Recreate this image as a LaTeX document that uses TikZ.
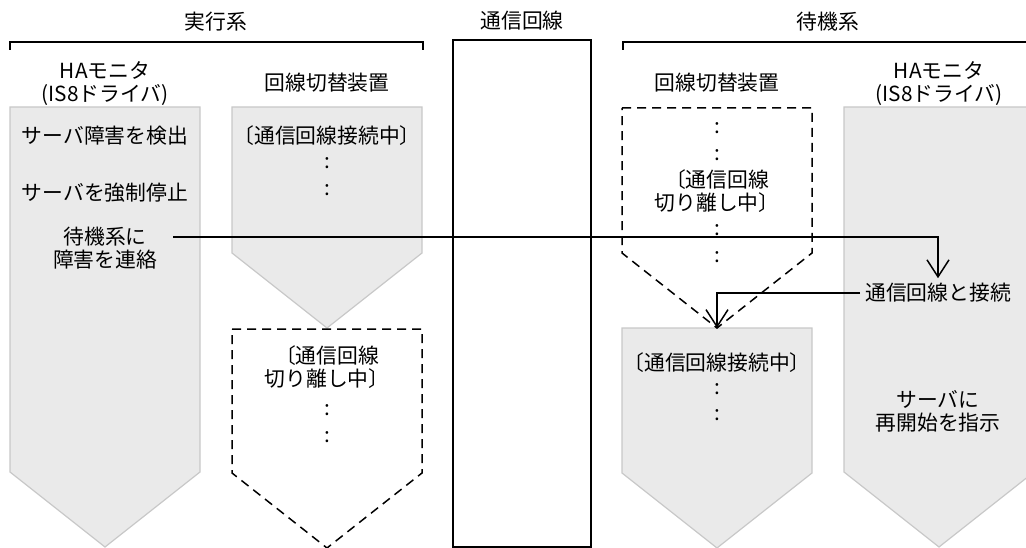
\documentclass[tikz,border=0pt]{standalone}
\usepackage{fontspec}
\setmainfont{Noto Sans CJK JP}
\usetikzlibrary{arrows.meta}
\definecolor{phasegray}{HTML}{EAEAEA}
\definecolor{phaseedge}{HTML}{C8C8C8}

\begin{document}
\begin{tikzpicture}[x=1pt,y=-1pt]
  \tikzset{txt/.style={font=\fontsize{20.8}{23}\selectfont,align=center,inner sep=5pt},
    phase on/.style={fill=phasegray,draw=phaseedge,line width=1.2pt},
    phase off/.style={draw=black,line width=1.5pt,dash pattern=on 9pt off 6pt},
    flow/.style={draw=black,line width=1.5pt,-{Straight Barb[length=17pt,width=22pt,line width=1.5pt]}}}%
  \useasboundingbox (0,0) rectangle (1026,548);

  % phase arrows
  \foreach \x/\t/\b in {10/107/472,232/107/253,622/328/473,844/107/472}
    \draw[phase on] (\x,\t) -- (\x+190,\t) -- (\x+190,\b) -- (\x+95,\b+75) -- (\x,\b) -- cycle;
  \foreach \x/\t/\b in {232/329/473,622/108/253}
    \draw[phase off] (\x,\t) -- (\x+190,\t) -- (\x+190,\b) -- (\x+95,\b+75) -- (\x,\b) -- cycle;

  \draw[line width=1.4pt] (10,50) -- (10,42) -- (423,42) -- (423,50);
  \draw[line width=1.4pt] (623,50) -- (623,42) -- (1034,42) -- (1034,50);
  \draw[line width=1.8pt] (453,40) rectangle (591,547);

  \node[txt] (titleA) at (216,22) {実行系};
  \node[txt] (titleM) at (522,21) {通信回線};
  \node[txt] (titleB) at (828,22) {待機系};

  \node[txt] (haA) at (105,84) {HAモニタ\\(IS8ドライバ)};
  \node[txt] (swA) at (327,83) {回線切替装置};
  \node[txt] (swB) at (717,83) {回線切替装置};
  \node[txt] (haB) at (939,84) {HAモニタ\\(IS8ドライバ)};

  \node[txt] (detect) at (105,136) {サーバ障害を検出};
  \node[txt] (stop) at (105,193) {サーバを強制停止};
  \node[txt] (notify) at (105,248) {待機系に\\障害を連絡};

  \node[txt] (connA) at (327,136) {〔通信回線接続中〕};
  \node[txt] (cutA) at (327,367) {〔通信回線\\切り離し中〕};
  \node[txt] (cutB) at (717,191) {〔通信回線\\切り離し中〕};
  \node[txt] (connB) at (717,363) {〔通信回線接続中〕};

  \node[txt] (connect) at (938,293) {通信回線と接続};
  \node[txt] (restart) at (938,411) {サーバに\\再開始を指示};

  \foreach \x/\y [count=\i] in {327/163,327/190,327/410,327/437,717/128,717/155,717/230,717/257,717/389,717/415}
    \node[txt] (dot\i) at (\x,\y) {:};

  \coordinate (notifyout) at (173,237);
  \coordinate (connBtop) at (717,328);
  \draw[flow] (notifyout) -| (connect.north);
  \draw[flow] (connect.west) -| (connBtop);
\end{tikzpicture}
\end{document}
